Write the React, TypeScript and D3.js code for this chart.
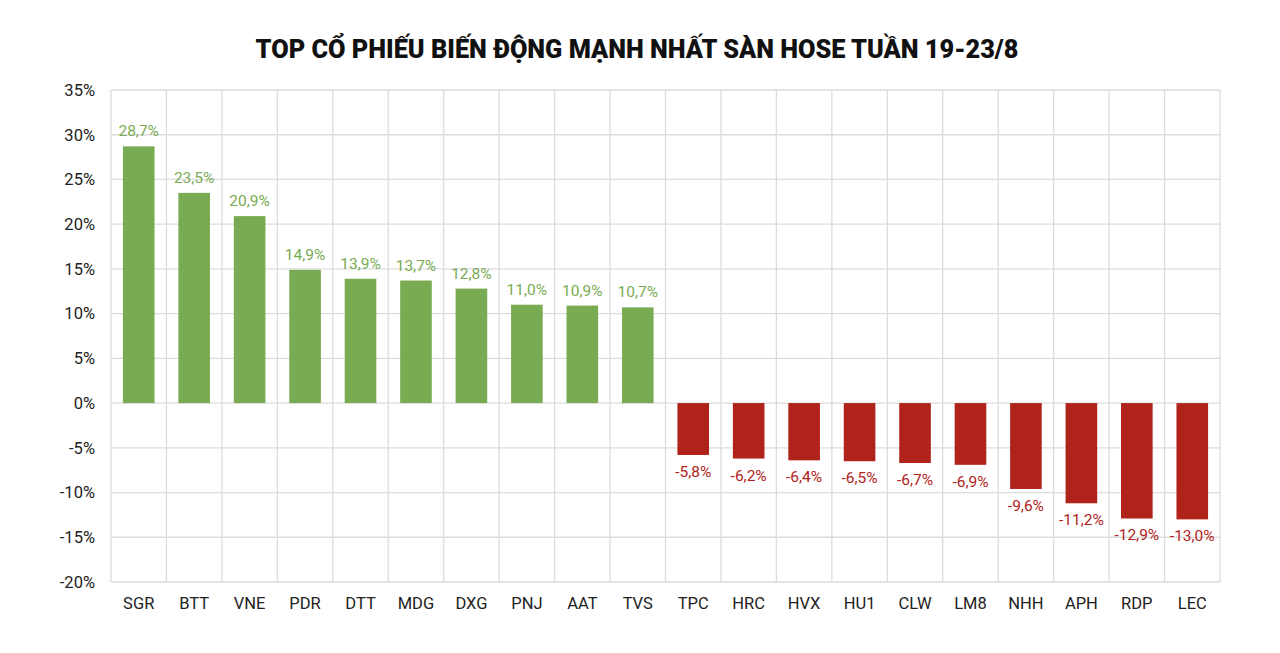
import React from "react";
import * as d3 from "d3";

const categories = ["SGR","BTT","VNE","PDR","DTT","MDG","DXG","PNJ","AAT","TVS","TPC","HRC","HVX","HU1","CLW","LM8","NHH","APH","RDP","LEC"];
const values = [28.7,23.5,20.9,14.9,13.9,13.7,12.8,11.0,10.9,10.7,-5.8,-6.2,-6.4,-6.5,-6.7,-6.9,-9.6,-11.2,-12.9,-13.0];
const yTicks = [35,30,25,20,15,10,5,0,-5,-10,-15,-20];
const title = "TOP CỔ PHIẾU BIẾN ĐỘNG MẠNH NHẤT SÀN HOSE TUẦN 19-23/8";

const W = 1280, H = 653;
const M = { left: 111, right: 1220, top: 90, bottom: 582 };
const GREEN = "#79ab53";
const RED = "#b0231a";
const FONT = "Roboto, 'Noto Sans', sans-serif";

export default function App() {
  const x = d3.scaleBand<string>().domain(categories).range([M.left, M.right]).paddingInner(0.43).paddingOuter(0.215);
  const xb = d3.scaleBand<string>().domain(categories).range([M.left, M.right]);
  const y = d3.scaleLinear().domain([-20, 35]).range([M.bottom, M.top]);
  const fmt = (v: number) => v.toFixed(1).replace(".", ",") + "%";
  return (
    <svg width={W} height={H} style={{ position: "absolute", left: 0, top: 0, background: "#fff" }} fontFamily={FONT}>
      <rect width={W} height={H} fill="#fff" />
      <text x={637} y={58} textAnchor="middle" fontSize={25.3} fontWeight={900} fill="#111">{title}</text>
      {yTicks.map(t => (
        <g key={t}>
          <line x1={M.left} x2={M.right} y1={y(t)} y2={y(t)} stroke="#dcdcdc" strokeWidth={1.3} />
          <text x={95} y={y(t)} dy="0.35em" textAnchor="end" fontSize={16.5} fill="#222">{t}%</text>
        </g>
      ))}
      {categories.map(c => (
        <line key={c} x1={xb(c)!} x2={xb(c)!} y1={M.top} y2={M.bottom} stroke="#dcdcdc" strokeWidth={1.3} />
      ))}
      <line x1={M.right} x2={M.right} y1={M.top} y2={M.bottom} stroke="#dcdcdc" strokeWidth={1.3} />
      {categories.map((c, i) => {
        const v = values[i];
        const col = v >= 0 ? GREEN : RED;
        const y0 = y(0), y1 = y(v);
        const cx = x(c)! + x.bandwidth() / 2;
        return (
          <g key={c}>
            <rect x={x(c)!} width={x.bandwidth()} y={Math.min(y0, y1)} height={Math.abs(y1 - y0)} fill={col} />
            <text x={cx} y={v >= 0 ? y1 - 10 : y1 + 22} textAnchor="middle" fontSize={15.5} fill={col}>{fmt(v)}</text>
            <text x={xb(c)! + xb.bandwidth() / 2} y={609} textAnchor="middle" fontSize={16.5} fill="#222">{c}</text>
          </g>
        );
      })}
    </svg>
  );
}
